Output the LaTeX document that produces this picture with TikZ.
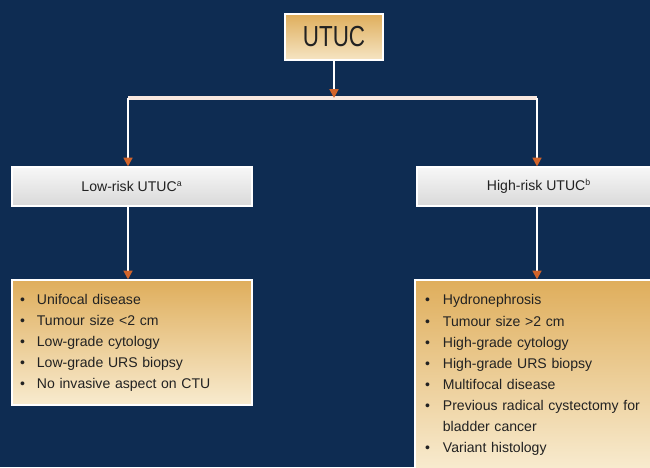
\documentclass[tikz,border=0pt]{standalone}
\usepackage{fontspec}
\setmainfont{Liberation Sans}
\usetikzlibrary{arrows.meta,positioning}

\definecolor{navybg}{HTML}{0E2C52}
\definecolor{tantop}{HTML}{DFAE5C}
\definecolor{tanbot}{HTML}{F8EBCF}
\definecolor{tipor}{HTML}{D2642A}
\definecolor{txtgray}{HTML}{222222}

\begin{document}
\begin{tikzpicture}[
    root/.style={draw=white,line width=1.2pt,top color=tantop,bottom color=tanbot!90!tantop,
        minimum width=1.96cm,minimum height=0.92cm,font=\fontsize{15}{15}\selectfont,text=txtgray},
    risk/.style={draw=white,line width=0.6pt,top color=gray!6,bottom color=gray!30,
        minimum width=4.8cm,minimum height=0.78cm,font=\fontsize{8}{10}\selectfont,text=txtgray},
    crit/.style={draw=white,line width=0.6pt,top color=tantop,bottom color=tanbot,
        text width=4.48cm,inner xsep=0.16cm,align=left,font=\fontsize{8}{12}\selectfont,text=txtgray},
    link/.style={white,line width=1.1pt,-{Triangle[length=5pt,width=5pt,color=tipor]}},
    bar/.style={white!85!tipor,line width=2pt}
]
\useasboundingbox (0,0) rectangle (13,-9.34);
\clip (0,0) rectangle (13,-9.34);
\fill[navybg] (0,0) rectangle (13,-9.34);

\node[root] (utuc) at (6.68,-0.74) {\scalebox{0.85}[1.1]{UTUC}};
\node[risk] (low) at (2.64,-3.73) {Low-risk UTUC\textsuperscript{\tiny a}};
\node[risk,minimum width=4.88cm] (high) at (10.78,-3.73) {High-risk UTUC\textsuperscript{\tiny b}};

\node[crit,minimum height=2.5cm] (lowlist) at (2.64,-6.85) {%
\begin{tabular}{@{}l@{\hspace{0.24cm}}l@{}}
\textbullet & Unifocal disease\\
\textbullet & Tumour size <2 cm\\
\textbullet & Low-grade cytology\\
\textbullet & Low-grade URS biopsy\\
\textbullet & No invasive aspect on CTU
\end{tabular}};
\node[crit,text width=4.56cm,inner xsep=0.2cm,minimum height=3.78cm] (highlist) at (10.78,-7.49) {%
\begin{tabular}{@{}l@{\hspace{0.26cm}}l@{}}
\textbullet & Hydronephrosis\\
\textbullet & Tumour size >2 cm\\
\textbullet & High-grade cytology\\
\textbullet & High-grade URS biopsy\\
\textbullet & Multifocal disease\\
\textbullet & Previous radical cystectomy for\\
 & bladder cancer\\
\textbullet & Variant histology
\end{tabular}};

% split bar
\coordinate (split) at (6.68,-1.96);
\coordinate (lowsplit) at (2.56,-1.96);
\coordinate (highsplit) at (10.74,-1.96);
\draw[bar] (lowsplit) -- (highsplit);
\draw[link] (utuc.south) -- (split);
\draw[link] (lowsplit) -- (lowsplit |- low.north);
\draw[link] (highsplit) -- (highsplit |- high.north);
\draw[link] (lowsplit |- low.south) -- (lowsplit |- lowlist.north);
\draw[link] (highsplit |- high.south) -- (highsplit |- highlist.north);
\end{tikzpicture}
\end{document}
